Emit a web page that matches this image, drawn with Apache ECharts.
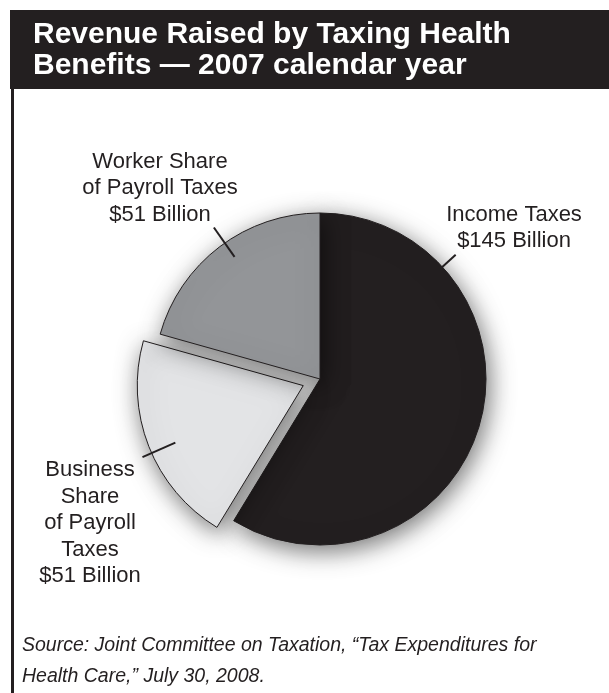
<!DOCTYPE html>
<html>
<head>
<meta charset="utf-8">
<script src="https://cdn.jsdelivr.net/npm/echarts@6/dist/echarts.min.js"></script>
<style>
  html, body { margin: 0; padding: 0; background: #ffffff; }
  #chart { width: 609px; height: 693px; }
</style>
</head>
<body>
<div id="chart"></div>
<script>
// Revenue from taxing health benefits, 2007 (billions of dollars)
const categories = ['Income Taxes', 'Business Share of Payroll Taxes', 'Worker Share of Payroll Taxes'];
const values = [145, 51, 51];
const labelNames = ['Income Taxes', 'Business\nShare\nof Payroll\nTaxes', 'Worker Share\nof Payroll Taxes'];
const sliceColors = ['#231f20', '#e3e4e6', '#939598'];
const explodedIndex = 1;

const titleText = 'Revenue Raised by Taxing Health\nBenefits \u2014 2007 calendar year';
const sourceText = 'Source: Joint Committee on Taxation, \u201cTax Expenditures for\nHealth Care,\u201d July 30, 2008.';

// Pie geometry (pixels)
const CENTER = [320, 379];
const RADIUS = 166;
const OFFSET = 18;
const INK = '#231f20';
const FONT = '"Liberation Sans", Arial, Helvetica, sans-serif';

// Label anchors (centre of each text block) and short leader ticks
// (angle in degrees measured at the slice's own centre, inner/outer radius)
const labelAnchors = [[514, 228], [90, 523], [160, 188]];
const tickAngles = [42.5, 204, 125];
const tickRadii = [[164, 184], [140, 176], [149, 185]];

const total = values.reduce((a, b) => a + b, 0);
function sliceMidAngle(i) {
  let start = 90;
  for (let k = 0; k < i; k++) start -= values[k] / total * 360;
  return start - values[i] / total * 360 / 2;
}
function sliceCenter(i) {
  if (i !== explodedIndex) return CENTER;
  const a = sliceMidAngle(i) * Math.PI / 180;
  return [CENTER[0] + OFFSET * Math.cos(a), CENTER[1] - OFFSET * Math.sin(a)];
}
function tickShape(i) {
  const c = sliceCenter(i);
  const a = tickAngles[i] * Math.PI / 180;
  const r0 = tickRadii[i][0], r1 = tickRadii[i][1];
  return {
    x1: c[0] + r0 * Math.cos(a), y1: c[1] - r0 * Math.sin(a),
    x2: c[0] + r1 * Math.cos(a), y2: c[1] - r1 * Math.sin(a)
  };
}

const ticks = values.map((v, i) => ({
  type: 'line', z: 10, silent: true,
  shape: tickShape(i),
  style: { stroke: INK, lineWidth: 2 }
}));

const sliceLabels = values.map((v, i) => ({
  type: 'text', z: 10, silent: true,
  x: labelAnchors[i][0], y: labelAnchors[i][1],
  style: {
    text: labelNames[i] + '\n$' + v + ' Billion',
    fill: INK,
    font: '22px ' + FONT,
    lineHeight: 26.5,
    align: 'center',
    verticalAlign: 'middle'
  }
}));

const chart = echarts.init(document.getElementById('chart'), null, { renderer: 'canvas' });

chart.setOption({
  animation: false,
  backgroundColor: '#ffffff',
  graphic: [
    { type: 'rect', shape: { x: 10, y: 10, width: 599, height: 79 }, style: { fill: INK }, z: 0 },
    { type: 'rect', shape: { x: 11, y: 88, width: 3, height: 605 }, style: { fill: INK }, z: 0 },
    {
      type: 'text', left: 33, top: 19, z: 2,
      style: {
        text: titleText, fill: '#ffffff',
        font: 'bold 30px ' + FONT, lineHeight: 31
      }
    },
    {
      type: 'text', left: 22, top: 630, z: 2,
      style: {
        text: sourceText, fill: INK,
        font: 'italic 19.5px ' + FONT, lineHeight: 31
      }
    }
  ].concat(ticks, sliceLabels),
  series: [{
    type: 'pie',
    center: CENTER,
    radius: [0, RADIUS],
    startAngle: 90,
    clockwise: true,
    selectedMode: 'single',
    selectedOffset: OFFSET,
    itemStyle: {
      borderColor: INK,
      borderWidth: 1,
      shadowBlur: 24,
      shadowColor: 'rgba(0,0,0,0.55)',
      shadowOffsetX: 3,
      shadowOffsetY: 6
    },
    emphasis: { disabled: true },
    label: { show: false },
    labelLine: { show: false },
    data: categories.map((name, i) => ({
      name: name,
      value: values[i],
      selected: i === explodedIndex,
      itemStyle: { color: sliceColors[i] }
    }))
  }]
});
</script>
</body>
</html>
